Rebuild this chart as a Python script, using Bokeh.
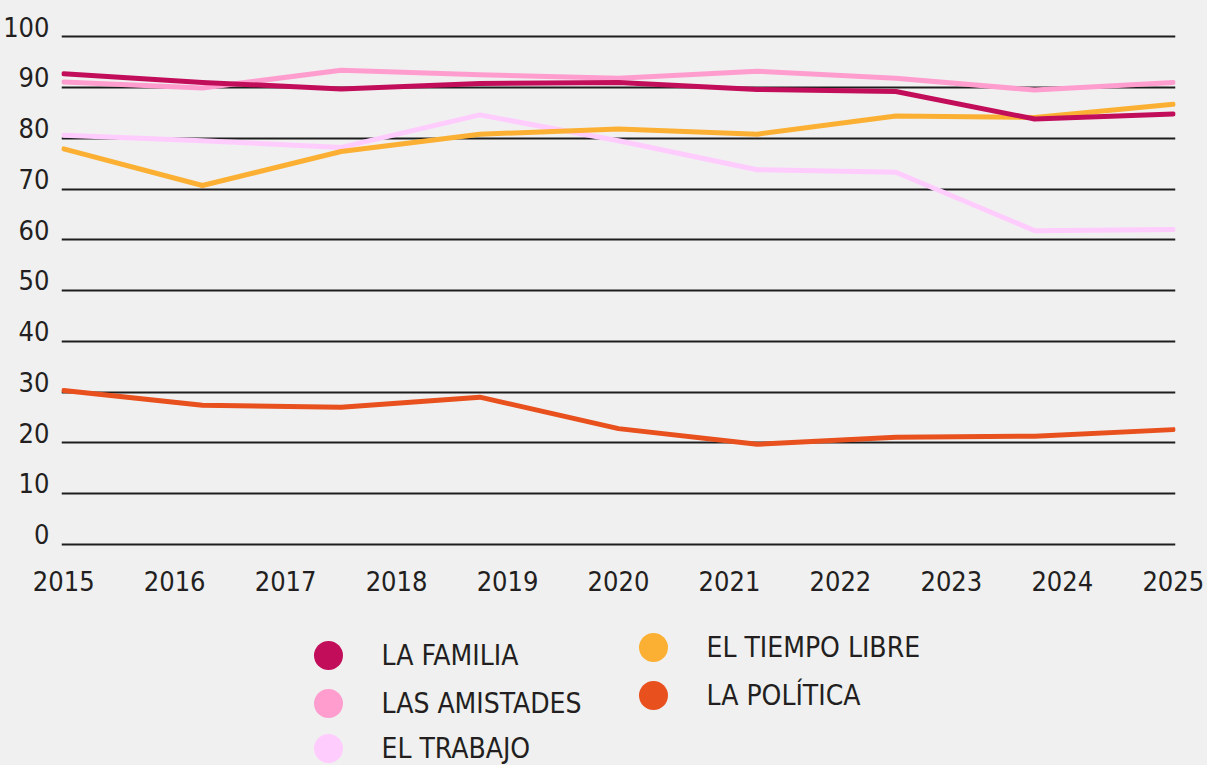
from bokeh.plotting import figure
from bokeh.models import Range1d, FixedTicker, ColumnDataSource
from bokeh.layouts import column
from bokeh.core.properties import value
from bokeh.embed import file_html
from bokeh.resources import INLINE

# ---- data ----
survey_x = [2015, 2016.25, 2017.5, 2018.75, 2020, 2021.25, 2022.5, 2023.75, 2025]
familia = [92.7, 91.0, 89.7, 90.8, 91.0, 89.6, 89.2, 83.8, 84.8]
amistades = [91.1, 89.9, 93.4, 92.5, 91.8, 93.2, 91.8, 89.5, 91.0]
trabajo = [80.6, 79.5, 78.2, 84.6, 79.5, 73.8, 73.3, 61.8, 62.0]
tiempo_libre = [77.9, 70.7, 77.4, 80.8, 81.8, 80.8, 84.4, 84.1, 86.7]
politica = [30.3, 27.4, 27.0, 29.0, 22.8, 19.7, 21.1, 21.3, 22.6]

year_ticks = [2015, 2016, 2017, 2018, 2019, 2020, 2021, 2022, 2023, 2024, 2025]
year_labels = [str(y) for y in year_ticks]
y_ticks = [0, 10, 20, 30, 40, 50, 60, 70, 80, 90, 100]
y_labels = [str(v) for v in y_ticks]

series_names = ["LA FAMILIA", "LAS AMISTADES", "EL TRABAJO", "EL TIEMPO LIBRE", "LA POLÍTICA"]
series_colors = ["#c20e5a", "#ff9dcf", "#ffccfe", "#fbb034", "#e8501e"]
series_values = [familia, amistades, trabajo, tiempo_libre, politica]
draw_order = [2, 1, 3, 0, 4]

# ---- styling ----
FONT = "DejaVu Sans Condensed, Roboto"
BG = "#f0f0f0"
INK = "#231f20"
LABEL_LIFT = 2  # y labels sit just above their gridline

LEFT, FRAME_W, RIGHT = 60, 1114, 33

p = figure(width=LEFT + FRAME_W + RIGHT, height=608, output_backend="svg", toolbar_location=None,
           x_range=Range1d(2014.98, 2025.02), y_range=Range1d(-2, 103),
           frame_width=FRAME_W, frame_height=533,
           min_border_left=LEFT, min_border_right=RIGHT, min_border_top=21, min_border_bottom=54,
           background_fill_color=BG, border_fill_color=BG)
p.outline_line_color = None
p.xgrid.visible = False
p.ygrid.ticker = FixedTicker(ticks=y_ticks)
p.ygrid.grid_line_color = "#1e1e1e"
p.ygrid.grid_line_width = 2

ax = p.xaxis[0]
ax.ticker = FixedTicker(ticks=year_ticks)
ax.major_label_overrides = {t: l for t, l in zip(year_ticks, year_labels)}
ax.axis_line_color = None
ax.major_tick_line_color = None
ax.minor_tick_line_color = None
ax.major_tick_out = 0
ax.major_tick_in = 0
ax.major_label_standoff = 16
ax.major_label_text_font = FONT
ax.major_label_text_font_size = "27px"
ax.major_label_text_color = INK

ay = p.yaxis[0]
ay.ticker = FixedTicker(ticks=[v + LABEL_LIFT for v in y_ticks])
ay.major_label_overrides = {v + LABEL_LIFT: l for v, l in zip(y_ticks, y_labels)}
ay.axis_line_color = None
ay.major_tick_line_color = None
ay.minor_tick_line_color = None
ay.major_tick_out = 0
ay.major_tick_in = 0
ay.major_label_standoff = 12
ay.major_label_text_font = FONT
ay.major_label_text_font_size = "27px"
ay.major_label_text_color = INK

for i in draw_order:
    p.line(survey_x, series_values[i], line_color=series_colors[i], line_width=5,
           line_cap="round", line_join="round")

# ---- legend as its own small figure (x in page pixels) ----
leg = figure(width=LEFT + FRAME_W + RIGHT, height=157, output_backend="svg", toolbar_location=None,
             x_range=Range1d(LEFT, LEFT + FRAME_W), y_range=Range1d(157, 0),
             x_axis_location=None, y_axis_location=None,
             frame_width=FRAME_W, frame_height=157,
             min_border_left=LEFT, min_border_right=RIGHT, min_border_top=0, min_border_bottom=0,
             background_fill_color=BG, border_fill_color=BG)
leg.outline_line_color = None
leg.grid.visible = False

col_x = [327, 327, 327, 652, 652]
row_y = [47, 95, 140, 39, 87]
lsrc = ColumnDataSource(dict(x=col_x, y=row_y, tx=[c + 53 for c in col_x],
                             name=series_names, color=series_colors))
leg.scatter("x", "y", source=lsrc, size=29, fill_color="color", line_color=None)
leg.text("tx", "y", text="name", source=lsrc, text_font=value(FONT), text_font_size="28px",
         text_color=INK, text_baseline="middle", text_align="left")

layout = column(p, leg, spacing=0, background=BG)
open("out.html", "w").write(file_html(layout, INLINE))
